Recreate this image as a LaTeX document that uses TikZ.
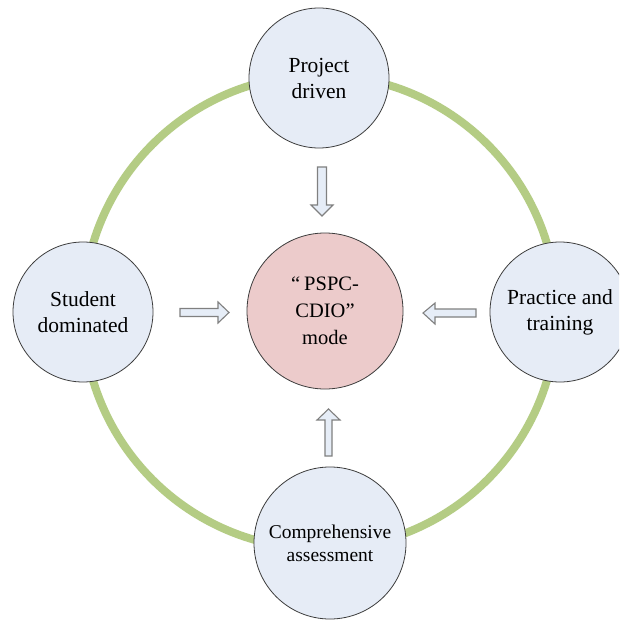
\documentclass[tikz,border=0pt]{standalone}
\usepackage{fontspec}
\setmainfont{Liberation Serif}
\definecolor{ringgreen}{RGB}{180,204,132}
\definecolor{bubblue}{RGB}{230,236,246}
\definecolor{bubpink}{RGB}{236,203,203}
\definecolor{bubline}{RGB}{60,60,60}
\definecolor{arrline}{RGB}{128,128,128}
\definecolor{arrfill}{RGB}{230,237,247}
\tikzset{
  ring/.style={draw=ringgreen, line width=8pt},
  bub/.style={circle, draw=bubline, line width=0.8pt, fill=bubblue, align=center, inner sep=0pt,
    font=\fontsize{21.5}{26}\selectfont},
  blockarrow/.style={draw=arrline, line width=1.1pt, fill=arrfill, line join=miter}
}
\begin{document}
\begin{tikzpicture}[x=1pt,y=-1pt]
\clip (0,0) rectangle (619,620);
\fill[white] (0,0) rectangle (619,620);
% ring
\draw[ring] (320,312) circle[radius=237pt];
% nodes
\node[bub, minimum size=140pt] (top) at (319,78) {Project\\driven};
\node[bub, minimum size=140pt] (left) at (83,312) {Student\\dominated};
\node[bub, minimum size=140pt] (right) at (560,312) {Practice and\\training};
\node[bub, minimum size=152pt, font=\fontsize{19.5}{23}\selectfont] (bottom) at (330,543) {Comprehensive\\assessment};
\node[bub, minimum size=156pt, fill=bubpink, font=\fontsize{20.5}{27}\selectfont] (center) at (325,311)
  {“\hspace{0.2em}PSPC-\\CDIO”\hspace{0.35em}\\mode};
% block arrows
\draw[blockarrow] (317.5,167) -- (326.5,167) -- (326.5,205) -- (333,205) -- (322,216) -- (311,205) -- (317.5,205) -- cycle;
\draw[blockarrow] (180,308.5) -- (218,308.5) -- (218,302) -- (229,312.5) -- (218,323) -- (218,316.5) -- (180,316.5) -- cycle;
\draw[blockarrow] (476,309) -- (435,309) -- (435,303) -- (423,313) -- (435,324) -- (435,317) -- (476,317) -- cycle;
\draw[blockarrow] (325,456) -- (325,420) -- (317,420) -- (328.5,409) -- (340,420) -- (332,420) -- (332,456) -- cycle;
\end{tikzpicture}
\end{document}
